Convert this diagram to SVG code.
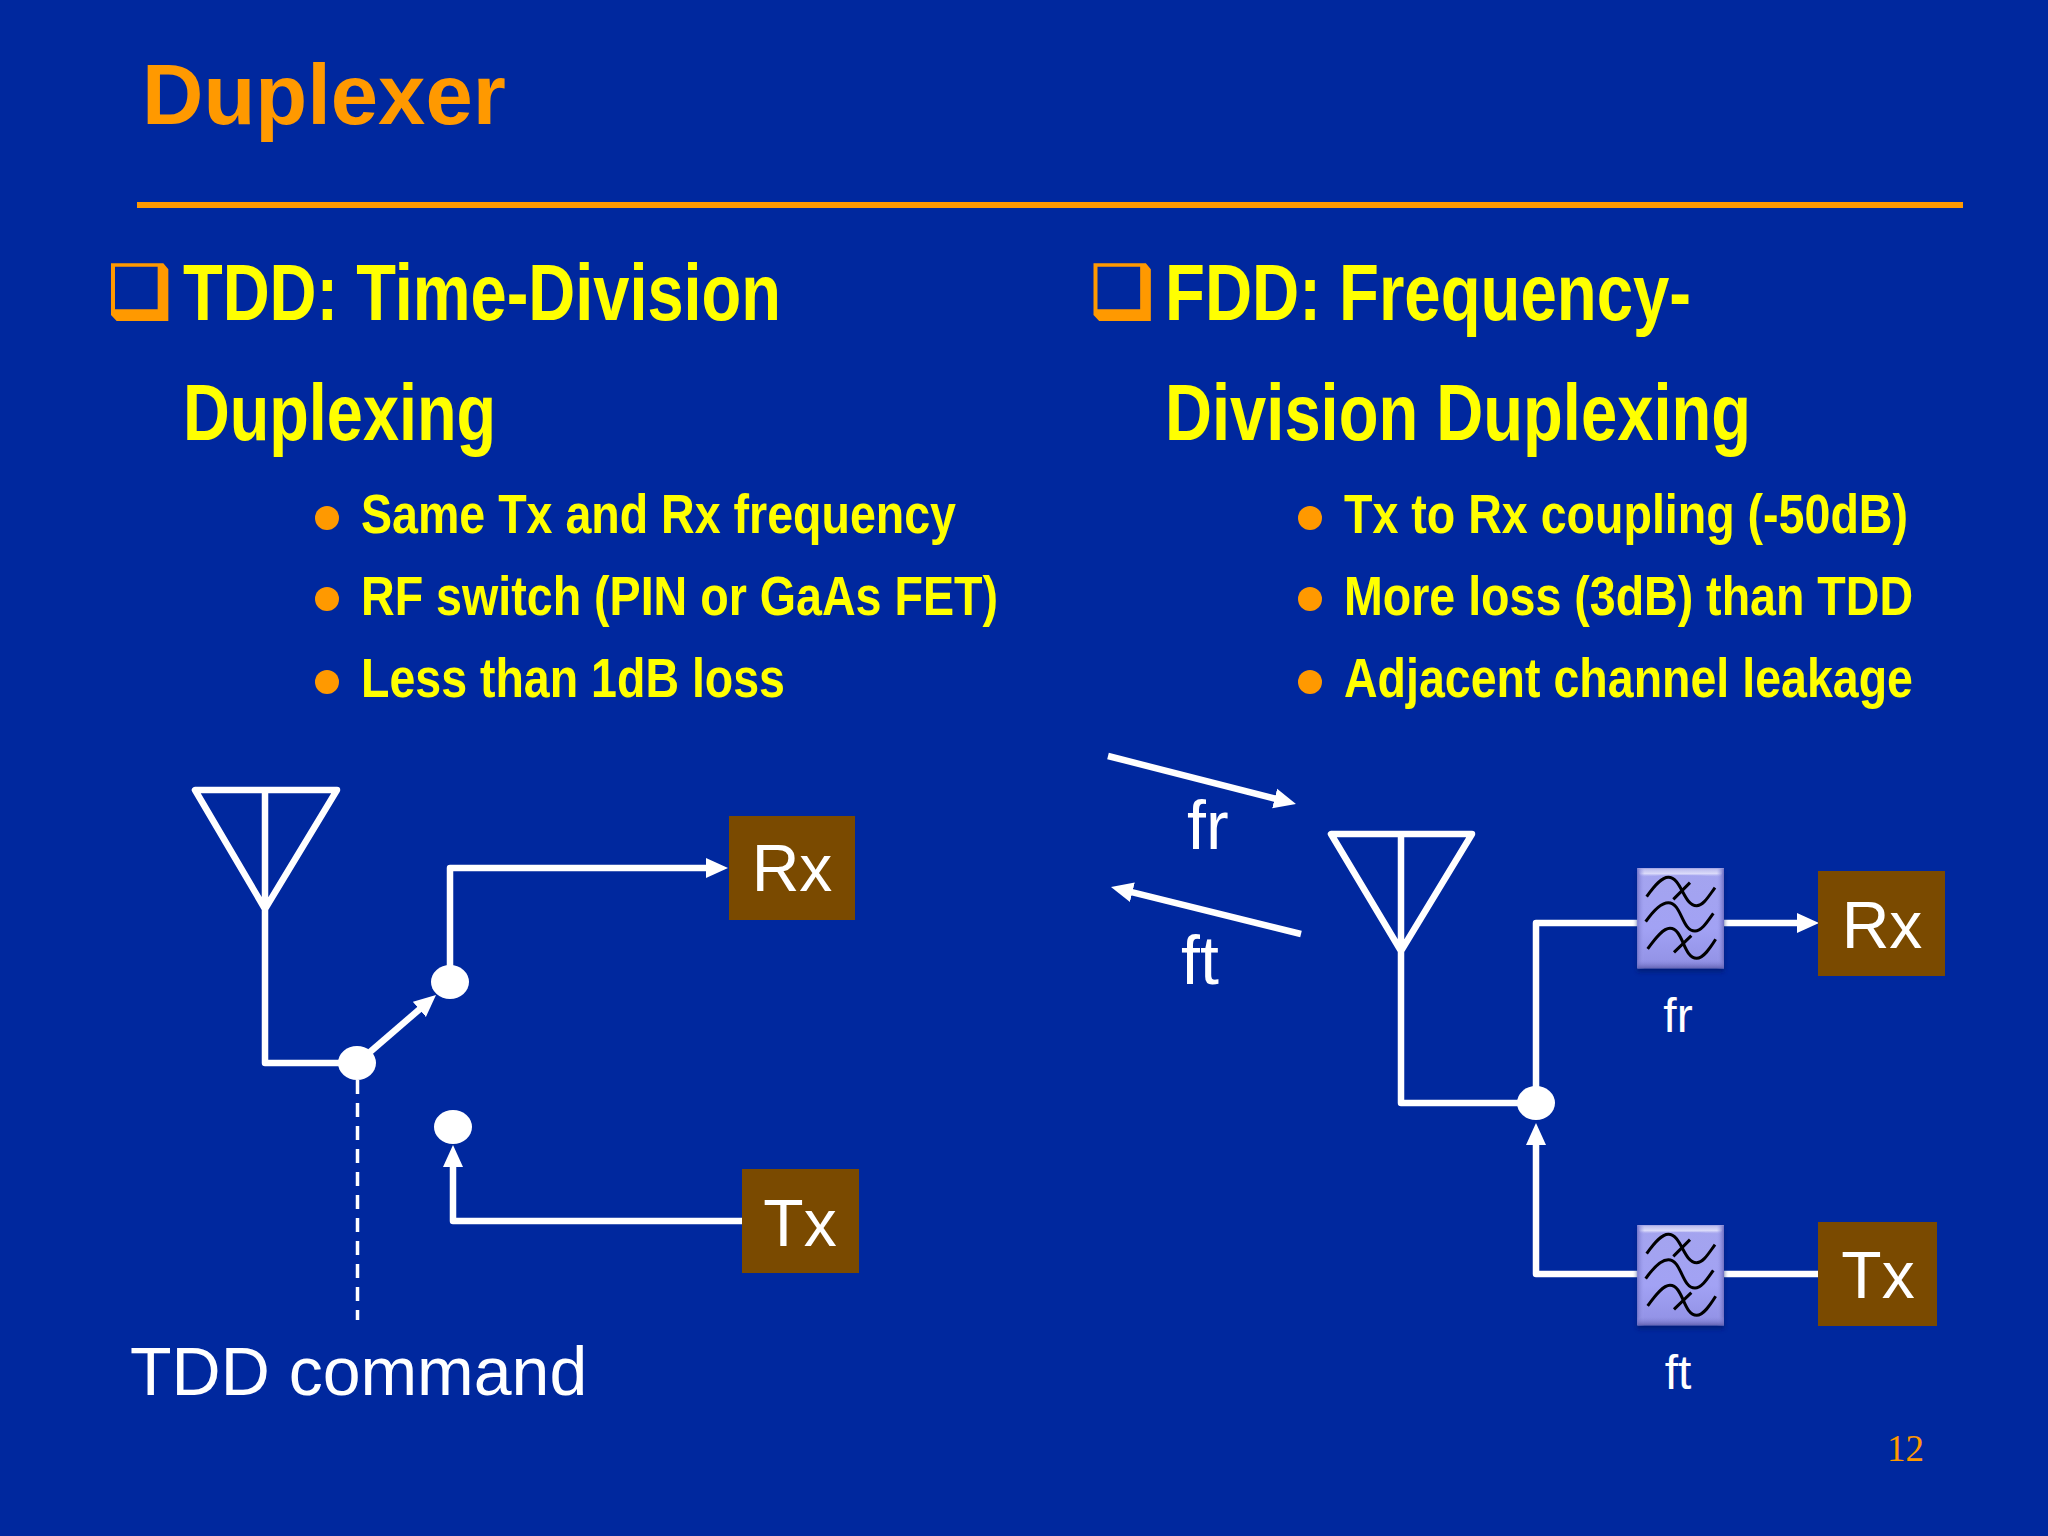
<svg xmlns="http://www.w3.org/2000/svg" width="2048" height="1536" viewBox="0 0 2048 1536">
<style>
.h{font-family:"Liberation Sans Narrow","Liberation Sans",sans-serif;font-weight:700;font-size:80px;fill:#FFFF00}
.s{font-family:"Liberation Sans Narrow","Liberation Sans",sans-serif;font-weight:700;font-size:55px;fill:#FFFF00}
.w{font-family:"Liberation Sans",Arial,sans-serif;fill:#fff}
.l{fill:none;stroke:#fff;stroke-width:6.5;stroke-linejoin:round}
.d{fill:#FF9900}
.b{fill:#7A4A00}
.c{fill:none;stroke:#000;stroke-width:9}
</style>
<defs>
<marker id="a" markerUnits="userSpaceOnUse" markerWidth="24" markerHeight="22" refX="8" refY="11" orient="auto"><path d="M0 1L22 11L0 21Z" fill="#fff"/></marker>
<linearGradient id="fg" x1="0" y1="0" x2="0" y2="1"><stop offset="0" stop-color="#A4A4EE"/><stop offset=".6" stop-color="#A2A2F4"/><stop offset="1" stop-color="#9090E4"/></linearGradient>
<linearGradient id="tp" x1="0" y1="0" x2="0" y2="1"><stop offset="0" stop-color="#B8B8EC"/><stop offset=".6" stop-color="#DCDCFA"/><stop offset="1" stop-color="#A4A4EE" stop-opacity="0"/></linearGradient>
<linearGradient id="lf" x1="0" y1="0" x2="1" y2="0"><stop offset="0" stop-color="#7878CC"/><stop offset="1" stop-color="#A2A2F0" stop-opacity="0"/></linearGradient>
<linearGradient id="rt" x1="1" y1="0" x2="0" y2="0"><stop offset="0" stop-color="#6E6EC0"/><stop offset="1" stop-color="#A2A2F0" stop-opacity="0"/></linearGradient>
<linearGradient id="bt" x1="0" y1="1" x2="0" y2="0"><stop offset="0" stop-color="#6464B4"/><stop offset="1" stop-color="#9090E4" stop-opacity="0"/></linearGradient>
<filter id="bl" x="-20%" y="-20%" width="140%" height="140%"><feGaussianBlur stdDeviation="7"/></filter>
<g id="box"><path d="M63 70H220L235 88V243H80L63 225ZM75 80V208H203V80Z" fill-rule="evenodd" class="d"/></g>
<g id="flt">
<rect x="112" y="96" width="260" height="300" fill="#001a70" opacity=".75" filter="url(#bl)"/>
<rect x="112" y="85" width="260" height="300" fill="url(#fg)"/>
<path d="M112 85H372L362 112Q242 98 122 112Z" fill="url(#tp)"/>
<rect x="112" y="85" width="22" height="300" fill="url(#lf)"/>
<rect x="350" y="85" width="22" height="300" fill="url(#rt)"/>
<rect x="112" y="358" width="260" height="27" fill="url(#bt)"/>
<path class="c" d="M140 170C165 135 185 112 205 112C245 112 250 197 290 197C310 197 325 170 345 143M220 178L270 128"/>
<path class="c" d="M137 245C160 212 185 188 205 188C245 188 245 273 285 273C305 273 322 245 340 220"/>
<path class="c" d="M143 327C168 292 190 265 210 265C250 265 250 355 290 355C310 355 330 325 347 298M222 337L274 287"/>
</g>
</defs>
<rect id="background" width="2048" height="1536" fill="#00289E"/>
<g id="title">
<text x="142" y="124" font-family="Liberation Sans,Arial,sans-serif" font-weight="700" font-size="85" fill="#FF9900">Duplexer</text>
<rect x="137" y="202" width="1826" height="6" fill="#FF9900"/>
</g>
<g id="left-text">
<use href="#box" transform="translate(90,240) scale(.3333)"/>
<text class="h" x="183" y="320" textLength="598" lengthAdjust="spacingAndGlyphs">TDD: Time-Division</text>
<text class="h" x="183" y="440" textLength="313" lengthAdjust="spacingAndGlyphs">Duplexing</text>
<circle class="d" cx="327" cy="518" r="12"/><text class="s" x="361" y="533" textLength="595" lengthAdjust="spacingAndGlyphs">Same Tx and Rx frequency</text>
<circle class="d" cx="327" cy="599" r="12"/><text class="s" x="361" y="615" textLength="637" lengthAdjust="spacingAndGlyphs">RF switch (PIN or GaAs FET)</text>
<circle class="d" cx="327" cy="682" r="12"/><text class="s" x="361" y="697" textLength="424" lengthAdjust="spacingAndGlyphs">Less than 1dB loss</text>
</g>
<g id="right-text">
<use href="#box" transform="translate(1072.500,240) scale(.3333)"/>
<text class="h" x="1165" y="320" textLength="526" lengthAdjust="spacingAndGlyphs">FDD: Frequency-</text>
<text class="h" x="1165" y="440" textLength="586" lengthAdjust="spacingAndGlyphs">Division Duplexing</text>
<circle class="d" cx="1310" cy="518" r="12"/><text class="s" x="1344" y="533" textLength="564" lengthAdjust="spacingAndGlyphs">Tx to Rx coupling (-50dB)</text>
<circle class="d" cx="1310" cy="599" r="12"/><text class="s" x="1344" y="615" textLength="569" lengthAdjust="spacingAndGlyphs">More loss (3dB) than TDD</text>
<circle class="d" cx="1310" cy="682" r="12"/><text class="s" x="1344" y="697" textLength="569" lengthAdjust="spacingAndGlyphs">Adjacent channel leakage</text>
</g>
<g id="connectors">
<path class="l" d="M370 1052L425.400 1004.200" marker-end="url(#a)"/>
<path fill="none" stroke="#fff" stroke-width="3.5" stroke-dasharray="14 9" d="M357.500 1080V1320"/>
<path class="l" d="M450 982V868H714" marker-end="url(#a)"/>
<path class="l" d="M742 1221H453V1159" marker-end="url(#a)"/>
<path class="l" d="M1108 756L1282.400 800.500" marker-end="url(#a)"/>
<path class="l" d="M1301 934L1124.600 890.400" marker-end="url(#a)"/>
<path class="l" d="M1640 923H1536V1103"/>
<path class="l" d="M1724 923H1805" marker-end="url(#a)"/>
<path class="l" d="M1640 1274H1536V1137" marker-end="url(#a)"/>
<path class="l" d="M1724 1274H1819"/>
</g>
<g id="antenna-left"><path class="l" d="M195 790H337L265 909ZM265 790V1063H357"/></g>
<g id="switch-common"><ellipse cx="357" cy="1063" rx="19" ry="17" fill="#fff"/></g>
<g id="switch-rx"><ellipse cx="450" cy="982" rx="19" ry="17" fill="#fff"/></g>
<g id="switch-tx"><ellipse cx="453" cy="1127" rx="19" ry="17" fill="#fff"/></g>
<g id="rx-left"><rect class="b" x="729" y="816" width="126" height="104"/><text class="w" x="792" y="891" font-size="66" text-anchor="middle">Rx</text></g>
<g id="tx-left"><rect class="b" x="742" y="1169" width="117" height="104"/><text class="w" x="800" y="1246" font-size="66" text-anchor="middle">Tx</text></g>
<g id="tdd-command"><text class="w" x="130" y="1395" font-size="68">TDD command</text></g>
<g id="fr-label"><text class="w" x="1187" y="849" font-size="68">fr</text></g>
<g id="ft-label"><text class="w" x="1181" y="984" font-size="68">ft</text></g>
<g id="antenna-right"><path class="l" d="M1331 834H1472L1401 951ZM1401 834V1103H1536"/></g>
<g id="junction"><ellipse cx="1536" cy="1103" rx="19" ry="17" fill="#fff"/></g>
<g id="filter-rx"><use href="#flt" transform="translate(1600,840) scale(.3333)"/><text class="w" x="1678" y="1032" font-size="48" text-anchor="middle">fr</text></g>
<g id="filter-tx"><use href="#flt" transform="translate(1600,1197) scale(.3333)"/><text class="w" x="1678" y="1389" font-size="48" text-anchor="middle">ft</text></g>
<g id="rx-right"><rect class="b" x="1818" y="871" width="127" height="105"/><text class="w" x="1882" y="948" font-size="66" text-anchor="middle">Rx</text></g>
<g id="tx-right"><rect class="b" x="1818" y="1222" width="119" height="104"/><text class="w" x="1878" y="1298" font-size="66" text-anchor="middle">Tx</text></g>
<g id="page-number"><text x="1887" y="1461" font-family="Liberation Serif,Times New Roman,serif" font-size="37" fill="#FF9900">12</text></g>
</svg>
